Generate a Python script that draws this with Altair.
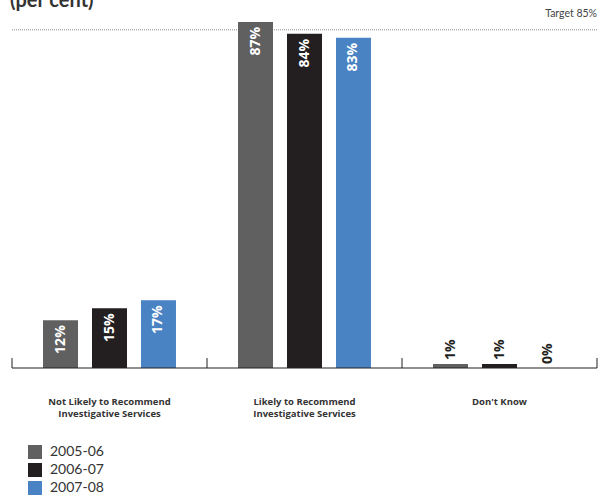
import altair as alt
import pandas as pd

title_text = "(per cent)"
categories = [
    "Not Likely to Recommend\nInvestigative Services",
    "Likely to Recommend\nInvestigative Services",
    "Don't Know",
]
years = ["2005-06", "2006-07", "2007-08"]
values_2005 = [12, 87, 1]
values_2006 = [15, 84, 1]
values_2007 = [17, 83, 0]
target = 85
colors = ["#606061", "#231f20", "#4a83c4"]

rows = []
for yr, vals in zip(years, [values_2005, values_2006, values_2007]):
    for cat, v in zip(categories, vals):
        rows.append({"category": cat, "year": yr, "value": v, "label": f"{v}%"})
df = pd.DataFrame(rows)

FONT = "Lato"
LFONT = "Open Sans"

x_enc = alt.X(
    "category:N",
    sort=categories,
    scale=alt.Scale(domain=categories, paddingInner=0, paddingOuter=0),
    axis=alt.Axis(
        title=None, domain=False, ticks=False, labelAngle=0,
        labelPadding=28, labelFontSize=9.5, labelFontWeight="bold",
        labelColor="#333333", labelLineHeight=12, labelBaseline="top",
        labelFont=LFONT, labelExpr="split(datum.label, '\\n')",
    ),
)
xo_enc = alt.XOffset(
    "year:N", sort=years,
    scale=alt.Scale(domain=years, paddingInner=0.2857, paddingOuter=0.633),
)
y_scale = alt.Scale(domain=[0, 92.5], nice=False, zero=True)
y_enc = alt.Y("value:Q", scale=y_scale, axis=None)

base = alt.Chart(df)

bars = base.mark_bar().encode(
    x=x_enc, xOffset=xo_enc, y=y_enc,
    color=alt.Color(
        "year:N", sort=years,
        scale=alt.Scale(domain=years, range=colors),
        legend=alt.Legend(
            title=None, orient="none", legendX=16, legendY=445,
            symbolType="square", symbolSize=196, symbolStrokeWidth=0,
            labelFontSize=14, labelFont=FONT, labelColor="#333333",
            labelOffset=8, rowPadding=4, padding=0,
        ),
    ),
)

inside = base.transform_filter("datum.value >= 5").mark_text(
    angle=270, align="right", baseline="middle", dx=-5,
    color="white", fontSize=14, fontWeight="bold", font=LFONT,
).encode(x=x_enc, xOffset=xo_enc, y=y_enc, text="label:N")

outside = base.transform_filter("datum.value < 5").mark_text(
    angle=270, align="left", baseline="middle", dx=4,
    color="#231f20", fontSize=14, fontWeight="bold", font=LFONT,
).encode(x=x_enc, xOffset=xo_enc, y=y_enc, text="label:N")

tdf = pd.DataFrame({"value": [target], "label": [f"Target {target}%"]})
target_rule = alt.Chart(tdf).mark_rule(
    color="#8a8a8a", strokeDash=[1, 1], strokeWidth=1
).encode(y=y_enc)
target_text = alt.Chart(tdf).mark_text(
    align="right", baseline="alphabetic", dy=-13, fontSize=10.5,
    color="#444444", font=FONT,
).encode(x=alt.value(585), y=y_enc, text="label:N")

zdf = pd.DataFrame({"value": [0]})
baseline = alt.Chart(zdf).mark_rule(color="#231f20", strokeWidth=1).encode(y=y_enc)

cdf = pd.DataFrame({"category": categories})
ticks = alt.Chart(cdf).mark_rule(color="#231f20", strokeWidth=1).encode(
    x=alt.X("category:N", sort=categories, bandPosition=0,
            scale=alt.Scale(domain=categories, paddingInner=0, paddingOuter=0)),
    y=alt.datum(0), y2=alt.datum(2.5),
)
last_tick = alt.Chart(cdf).transform_filter(
    alt.datum.category == categories[-1]
).mark_rule(color="#231f20", strokeWidth=1).encode(
    x=alt.X("category:N", sort=categories, bandPosition=1,
            scale=alt.Scale(domain=categories, paddingInner=0, paddingOuter=0)),
    y=alt.datum(0), y2=alt.datum(2.5),
)

title_df = pd.DataFrame({"t": [title_text]})
title_mark = alt.Chart(title_df).mark_text(
    align="left", baseline="alphabetic", fontSize=20, fontWeight="bold",
    color="#333333", font=FONT,
).encode(x=alt.value(-2), y=alt.value(7), text="t:N")

chart = alt.layer(
    target_rule, bars, inside, outside, target_text, baseline, ticks, last_tick,
    title_mark,
).properties(
    width=585, height=368,
    autosize=alt.AutoSizeParams(type="none"),
    padding={"left": 12, "top": 0, "right": 2, "bottom": 127},
).configure_view(stroke=None)

chart.save("out.html", embed_options={"renderer": "svg", "actions": False})
